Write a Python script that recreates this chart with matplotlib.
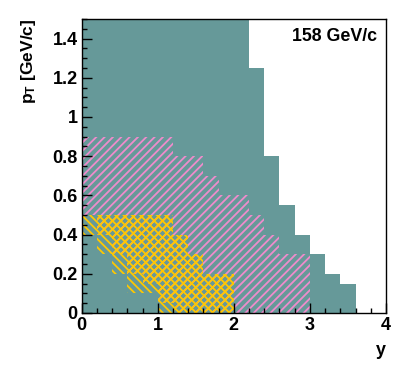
import numpy as np
import matplotlib
matplotlib.use("Agg")
import matplotlib.pyplot as plt
from matplotlib.ticker import MultipleLocator, FuncFormatter

plt.rcParams["font.family"] = ["Liberation Sans", "DejaVu Sans"]
plt.rcParams["font.weight"] = "bold"
plt.rcParams["mathtext.fontset"] = "custom"
plt.rcParams["mathtext.rm"] = "Liberation Sans:bold"
plt.rcParams["mathtext.it"] = "Liberation Sans:bold"
plt.rcParams["hatch.linewidth"] = 1.3

# bin edges in rapidity y (0.2 wide)
edges_all = np.round(np.arange(0, 3.61, 0.2), 2)
edges_pink = np.round(np.arange(0, 3.01, 0.2), 2)
edges_yel = np.round(np.arange(0, 2.01, 0.2), 2)

# full acceptance (teal)
teal_top = [1.5] * 11 + [1.25, 0.8, 0.55, 0.4, 0.3, 0.2, 0.15]

# pink region
pink_top = [0.9] * 6 + [0.8, 0.8, 0.7, 0.6, 0.6, 0.5, 0.4, 0.3, 0.3]
pink_low = [0.5, 0.4, 0.3, 0.2, 0.15, 0.05, 0, 0, 0, 0, 0, 0, 0, 0, 0]

# yellow region
yel_top = [0.5] * 6 + [0.4, 0.3, 0.2, 0.2]
yel_low = [0.4, 0.3, 0.2, 0.1, 0.1, 0, 0, 0, 0, 0]
yel_low2 = pink_low[:10]

TEAL = "#669999"
PINK = "#ee8ccc"
YEL = "#ffc800"

fig = plt.figure(figsize=(4.07, 3.69), dpi=100)
ax = fig.add_axes([0.2007, 0.1518, 0.7477, 0.7967])

ax.stairs(teal_top, edges_all, baseline=0, fill=True, color=TEAL, lw=0)
ax.stairs(pink_top, edges_pink, baseline=pink_low, fill=True,
          facecolor="none", edgecolor=PINK, hatch="////", lw=0)
ax.stairs(yel_top, edges_yel, baseline=yel_low, fill=True,
          facecolor="none", edgecolor=YEL, hatch="\\" * 4, lw=0)
ax.stairs(yel_top, edges_yel, baseline=yel_low2, fill=True,
          facecolor="none", edgecolor=YEL, hatch="////", lw=0)

ax.set_xlim(0, 4)
ax.set_ylim(0, 1.5)
ax.xaxis.set_major_locator(MultipleLocator(1))
ax.xaxis.set_minor_locator(MultipleLocator(0.2))
ax.yaxis.set_major_locator(MultipleLocator(0.2))
ax.yaxis.set_minor_locator(MultipleLocator(0.05))
ax.yaxis.set_major_formatter(FuncFormatter(lambda v, p: f"{v:g}"))
ax.tick_params(which="both", direction="in", top=False, right=False, labelsize=13, pad=3)
ax.tick_params(which="major", length=7, width=1)
ax.tick_params(which="minor", length=3.5, width=1)
for s in ax.spines.values():
    s.set_linewidth(1.0)

ax.set_xlabel("y", fontsize=13, fontweight="bold", loc="right", labelpad=6)
ax.set_ylabel(r"p$_\mathrm{T}$ [GeV/c]", fontsize=12.5, fontweight="bold", loc="top")
ax.yaxis.set_label_coords(-0.145, 1.0)

ax.text(0.97, 0.94, "158 GeV/c", transform=ax.transAxes, ha="right", va="center",
        fontsize=12.8, fontweight="bold")

fig.savefig("out.png", dpi=100)
